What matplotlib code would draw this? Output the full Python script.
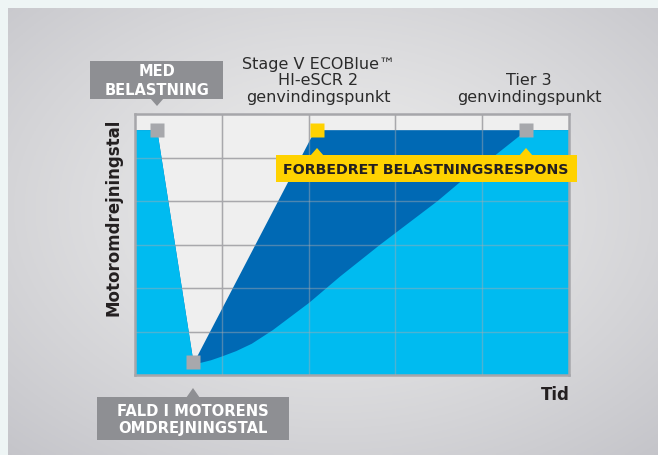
#!/usr/bin/env python3
"""
Engine speed recovery chart: Stage V ECOBlue HI-eSCR 2 vs Tier 3
"""

import numpy as np
import matplotlib
matplotlib.use("Agg")
import matplotlib.pyplot as plt
from matplotlib.patches import Rectangle, Polygon

W, H = 658, 456

# Data (time in grid columns, engine speed in grid rows)
tier3_x = [0, 0.25, 0.67, 0.75, 0.87, 1.00, 1.16, 1.34, 1.58, 2.00, 2.36, 2.82, 3.48, 3.73, 4.13, 4.42, 4.50, 5.0]
tier3_y = [5.64, 5.64, 0.28, 0.29, 0.35, 0.44, 0.56, 0.73, 1.04, 1.67, 2.28, 3.01, 4.01, 4.43, 5.04, 5.50, 5.64, 5.64]
stage5_x = [0, 0.25, 0.67, 2.07, 5.0]
stage5_y = [5.64, 5.64, 0.28, 5.64, 5.64]
gray_pts_x = [0.25, 0.67, 4.50]
gray_pts_y = [5.64, 0.30, 5.64]
yellow_pt = (2.10, 5.64)

ylabel = "Motoromdrejningstal"
xlabel = "Tid"
stage5_label = "Stage V ECOBlue\u2122\nHI-eSCR 2\ngenvindingspunkt"
tier3_label = "Tier 3\ngenvindingspunkt"
load_label = "MED\nBELASTNING"
drop_label = "FALD I MOTORENS\nOMDREJNINGSTAL"
better_label = "FORBEDRET BELASTNINGSRESPONS"

CYAN = "#00bbf0"
DARK = "#0069b4"
GRAY = "#a7a8ac"
BOXGRAY = "#8e8f93"
YELLOW = "#ffd200"
INK = "#231f20"


def fx(px):
    return px / W


def fy(py):
    return 1 - py / H


fig = plt.figure(figsize=(W / 100, H / 100), dpi=100)
fig.patch.set_facecolor("#eef5f5")

# background panel with soft radial gradient
bg = fig.add_axes([fx(8), 0, fx(W - 8), fy(9)])
bg.set_axis_off()
yy, xx = np.mgrid[0:1:200j, 0:1:300j]
d = np.sqrt(((xx - 0.5) / 0.75) ** 2 + ((yy - 0.45) / 0.75) ** 2)
d = np.clip(d, 0, 1)
c0 = np.array([0.925, 0.925, 0.925])
c1 = np.array([0.77, 0.77, 0.79])
img = c0 + (c1 - c0) * d[..., None] ** 1.3
bg.imshow(img, aspect="auto", extent=[0, 1, 0, 1])

ax = fig.add_axes([fx(135), fy(376), fx(434), (376 - 115) / H])
ax.set_facecolor("#efefef")
ax.set_xlim(0, 5)
ax.set_ylim(0, 6)
ax.set_xticks([1, 2, 3, 4])
ax.set_yticks([1, 2, 3, 4, 5])
ax.tick_params(length=0, labelbottom=False, labelleft=False)
ax.grid(True, color="#a8a8ac", lw=1.0, zorder=0)
ax.set_axisbelow(True)
for s in ax.spines.values():
    s.set_color("#a6a6aa")
    s.set_linewidth(1.8)

ax.fill_between(stage5_x, stage5_y, 0, color=DARK, lw=0, zorder=1)
ax.fill_between(tier3_x, tier3_y, 0, color=CYAN, lw=0, zorder=2)

# grid over the fills
for v in [1, 2, 3, 4]:
    ax.axvline(v, color="#aaaaae", alpha=0.45, lw=1.0, zorder=3)
for h in [1, 2, 3, 4, 5]:
    ax.axhline(h, color="#aaaaae", alpha=0.45, lw=1.0, zorder=3)

ax.plot(gray_pts_x, gray_pts_y, ls="none", marker="s", ms=10, color=GRAY,
        mec="none", zorder=5, clip_on=False)
ax.plot([yellow_pt[0]], [yellow_pt[1]], ls="none", marker="s", ms=10,
        color=YELLOW, mec="none", zorder=5, clip_on=False)


def box(x0, y0, x1, y1, color, tri_x=None, tip_y=None, base_y=None):
    fig.add_artist(Rectangle((fx(x0), fy(y1)), fx(x1 - x0), (y1 - y0) / H,
                             transform=fig.transFigure, color=color, lw=0, zorder=10))
    for tx in (tri_x or []):
        fig.add_artist(Polygon([(fx(tx - 7), fy(base_y)), (fx(tx + 7), fy(base_y)),
                                (fx(tx), fy(tip_y))], closed=True,
                               transform=fig.transFigure, color=color, lw=0, zorder=10))


box(90, 62, 223, 100, BOXGRAY, [157], 107, 99)
fig.text(fx(157), fy(81), load_label, ha="center", va="center", color="white",
         fontsize=10.5, fontweight="bold", linespacing=1.3, zorder=11)

box(276, 156, 577, 183, YELLOW, [317, 526], 149, 157)
fig.text(fx(426), fy(170), better_label, ha="center", va="center", color=INK,
         fontsize=10.2, fontweight="bold", zorder=11)

box(97, 398, 289, 441, BOXGRAY, [193], 389, 399)
fig.text(fx(193), fy(420), drop_label, ha="center", va="center", color="white",
         fontsize=10.6, fontweight="bold", linespacing=1.2, zorder=11)

fig.text(fx(318), fy(81), stage5_label, ha="center", va="center", color="#2b2b2b",
         fontsize=11.5, linespacing=1.15)
fig.text(fx(529), fy(89), tier3_label, ha="center", va="center", color="#2b2b2b",
         fontsize=11.5, linespacing=1.15)

fig.text(fx(113), fy(217), ylabel, rotation=90, ha="center", va="center",
         color=INK, fontsize=12, fontweight="bold")
fig.text(fx(570), fy(395), xlabel, ha="right", va="center",
         color=INK, fontsize=12, fontweight="bold")

fig.savefig("out.png", dpi=100, facecolor=fig.get_facecolor())
